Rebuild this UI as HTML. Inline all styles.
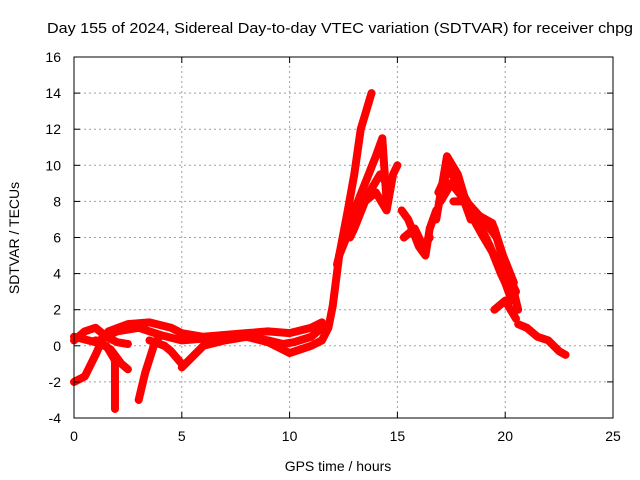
<!DOCTYPE html>
<html><head><meta charset="utf-8"><style>
body{margin:0;background:#fff;}
svg{display:block;font-family:"Liberation Sans",sans-serif;font-size:14px;}
</style></head><body>
<svg id="chart" width="640" height="480">
<text x="340" y="33" text-anchor="middle" textLength="586" lengthAdjust="spacingAndGlyphs" style="font-size:15px">Day 155 of 2024, Sidereal Day-to-day VTEC variation (SDTVAR) for receiver chpg</text>
<text x="338" y="471" text-anchor="middle">GPS time / hours</text>
<text transform="translate(19,238) rotate(-90)" text-anchor="middle">SDTVAR / TECUs</text>
<g id="grid"></g><g id="series"></g><g id="axes"></g>
</svg>
<script>
const xTicks=[0,5,10,15,20,25];
const yTicks=[-4,-2,0,2,4,6,8,10,12,14,16];
const trackTimes=[
[0,0.5,1,1.3,1.6,2.5,3.5,4.5,5,6,8,9,10,11,11.5],
[0,0.5,1,1.5,2,2.5],
[1.5,1.9,1.9],
[1,1.7,2.2,2.5],
[3,3.3,3.7,4],
[3.5,4.2,4.5,5],
[5,6,7,8,9,9.5,10,10.5,11,11.5,11.8,12,12.3,12.7,13,13.3,13.8],
[0,1,2,3,4,5,6,7,8,9,9.7,10.2,11,11.5],
[12.2,12.5,13,13.5,14,14.3,14.5,14.3],
[12.8,13,13.5,14,14.5,14.8,15],
[12.3,12.8,13.2,13.7,14.2,14.5],
[15.2,15.5,16,16.3,16.5,16.8],
[15.3,15.8,16.2,16.5],
[16.8,17.3,17.8,18.3,19,19.5,20,20.3],
[17,17.5,18.5,19.5,20,20.3,20.6],
[16.9,17.4,18,18.7,19.3,19.8,20.2],
[17.2,17.8,18.4,19,19.6,20.1,20.5],
[17.6,18.2,18.8,19.4,19.9,20.4],
[19.5,20,20.5],
[20.6,21,21.5,22,22.5,22.8]
];
const trackValues=[
[-2,-1.7,-0.5,0.3,0.8,1.2,1.3,1,0.7,0.5,0.7,0.8,0.7,1,1.3],
[0.3,0.8,1,0.5,0.2,0.1],
[0,-0.8,-3.5],
[0.3,-0.2,-1,-1.3],
[-3,-1.5,0,0.6],
[0.3,0,-0.3,-1],
[-1.2,0,0.3,0.5,0.2,-0.1,-0.4,-0.2,0,0.3,1,2.2,5,7.5,9.5,12,14],
[0.5,0.2,0.8,1,0.6,0.3,0.4,0.6,0.5,0.3,0.1,0.2,0.5,1],
[4.5,6,7.5,9,10.5,11.5,8,8],
[6,6.5,8,8.5,7.5,9.5,10],
[5,6.5,7.5,8.5,9.5,9],
[7.5,7,5.5,5,6.5,7.5],
[6,6.5,5.5,6],
[7,10.5,9.5,7.5,6,5,3.5,2.5],
[8,9,7.5,6.5,4.5,3.5,2],
[8.5,9.8,8.5,7,5.5,4,3],
[9,9,7,7,6,4,3],
[8,8,7.2,6.8,5,3.5],
[2,2.5,1.5],
[1.2,1,0.5,0.3,-0.3,-0.5]
];
const NS="http://www.w3.org/2000/svg";
const X0=74,X1=613,Y0=418,Y1=57;
const sx=v=>X0+(v-0)/25*(X1-X0);
const sy=v=>Y0-(v+4)/20*(Y0-Y1);
function mk(tag,attrs,parent){const e=document.createElementNS(NS,tag);for(const k in attrs)e.setAttribute(k,attrs[k]);parent.appendChild(e);return e;}
const grid=document.getElementById('grid'),axes=document.getElementById('axes'),ser=document.getElementById('series');
xTicks.forEach(t=>{
 if(t>0&&t<25){const g=mk('line',{x1:sx(t),x2:sx(t),y1:Y0,y2:Y1,stroke:'#a0a0a0','stroke-dasharray':'2,3'},grid);
 
 }
 const l=mk('text',{x:sx(t),y:Y0+23,'text-anchor':'middle'},axes);l.textContent=t;
 
 
 mk('line',{x1:sx(t),x2:sx(t),y1:Y0,y2:Y0-6,stroke:'#000'},axes);
 mk('line',{x1:sx(t),x2:sx(t),y1:Y1,y2:Y1+6,stroke:'#000'},axes);
});
yTicks.forEach(t=>{
 if(t>-4&&t<16){const g=mk('line',{x1:X0,x2:X1,y1:sy(t),y2:sy(t),stroke:'#a0a0a0','stroke-dasharray':'2,3'},grid);
 
 }
 const l=mk('text',{x:X0-13,y:sy(t)+5,'text-anchor':'end'},axes);l.textContent=t;
 
 
 mk('line',{x1:X0,x2:X0+6,y1:sy(t),y2:sy(t),stroke:'#000'},axes);
 mk('line',{x1:X1,x2:X1-6,y1:sy(t),y2:sy(t),stroke:'#000'},axes);
});
const frame=mk('rect',{x:X0,y:Y1,width:X1-X0,height:Y0-Y1,fill:'none',stroke:'#000'},axes);


trackTimes.forEach((ts,i)=>{
 const pts=ts.map((t,j)=>sx(t)+','+sy(trackValues[i][j])).join(' ');
 const p=mk('polyline',{points:pts,fill:'none',stroke:'#ff0000','stroke-width':8,'stroke-linejoin':'round','stroke-linecap':'round'},ser);
 
 
});
</script>
</body></html>
